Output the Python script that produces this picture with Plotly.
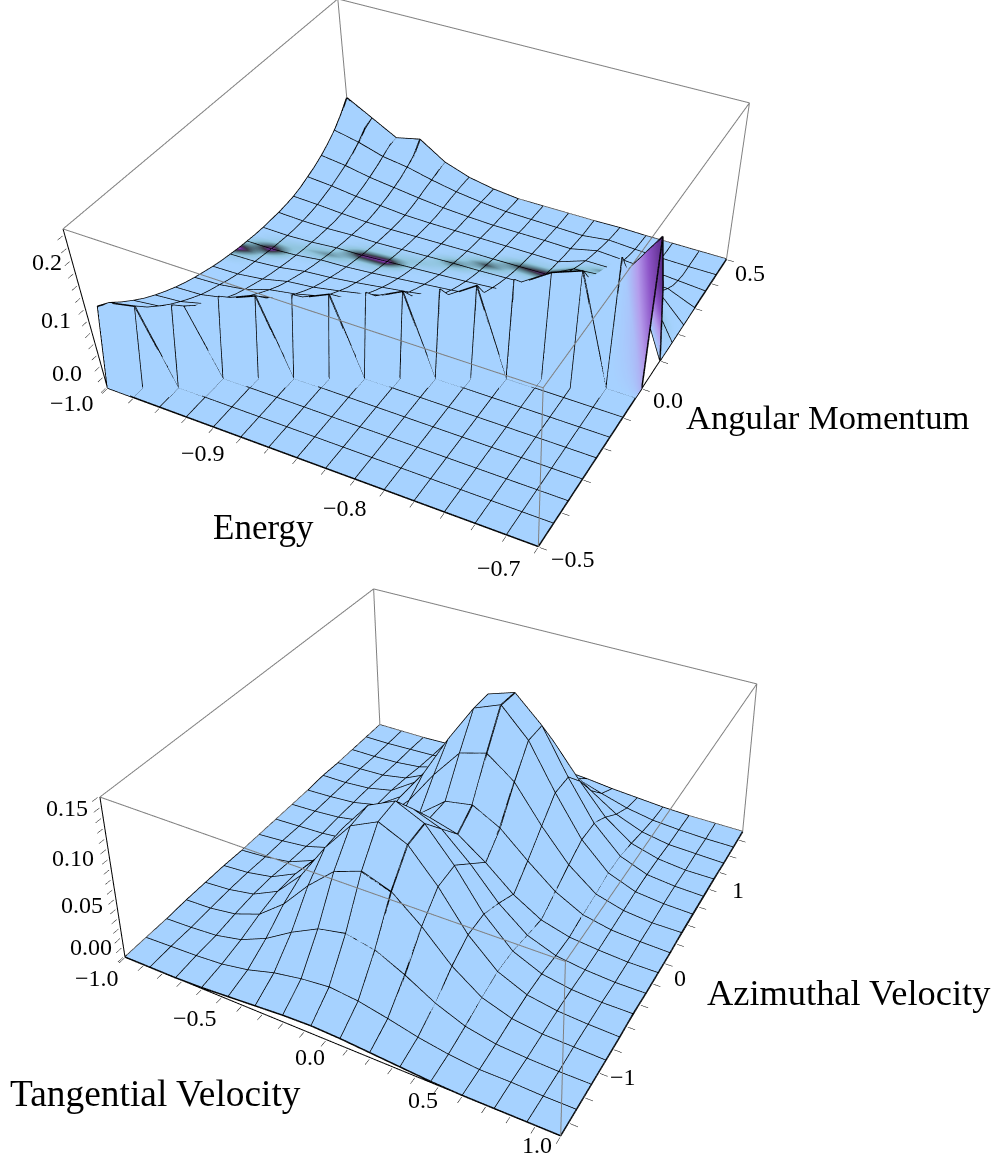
import plotly.graph_objects as go

# ---- top panel data ----
energy = [-1.00,-0.98,-0.96,-0.94,-0.92,-0.90,-0.88,-0.86,-0.84,-0.82,-0.80,-0.78,-0.76,-0.74,-0.72,-0.70]
ang_mom = [round(-0.5 + j/30, 5) for j in range(31)]
# rows: energy, columns: angular momentum; values in thousandths
top_z = [
 [0,130,120,105,92,80,70,61,53,46, 40,35,30,26,23,20,18,16,15,15, 15,16,18,22,28,34,42,52,64,80,100],
 [0,0,130,112,98,85,74,64,55,48, 42,36,31,27,24,21,18,16,14,13, 13,14,16,20,24,30,36,44,54,68,75],
 [0,0,0,132,114,99,86,75,65,56, 49,43,37,32,28,24,21,18,16,14, 13,12,13,15,18,22,27,33,40,48,50],
 [0,0,0,0,0,131,113,98,85,74, 64,55,48,42,36,31,27,23,20,17, 15,13,11,12,14,17,21,26,33,42,60],
 [0,0,0,0,0,0,132,112,96,83, 72,62,53,46,40,34,29,25,21,18, 15,13,11,10,10,12,15,19,22,26,30],
 [0,0,0,0,0,0,0,134,114,98, 84,72,62,53,46,39,33,28,24,20, 17,14,12,10,9,9,10,12,13,14,14],
 [0,0,0,0,0,0,0,0,135,115, 98,84,72,62,53,45,38,32,27,23, 19,16,13,11,9,8,7,8,7,6,5],
 [0,0,0,0,0,0,0,0,0,138, 116,98,84,71,60,51,43,36,30,25, 21,17,14,11,9,7,5,4,3,1,0],
 [0,0,0,0,0,0,0,0,0,0, 140,116,97,81,68,57,48,40,33,27, 22,18,14,11,9,7,5,3,2,1,0],
 [0,0,0,0,0,0,0,0,0,0, 0,144,118,97,80,66,54,45,37,30, 24,19,15,12,9,7,5,3,1,0,0],
 [0,0,0,0,0,0,0,0,0,0, 0,0,150,120,97,79,64,52,42,33, 26,20,16,12,9,6,4,2,0,0,0],
 [0,0,0,0,0,0,0,0,0,0, 0,0,0,160,140,122,106,92,80,70, 60,50,41,33,26,20,15,10,6,3,1],
 [0,0,0,0,0,0,0,0,0,0, 0,0,0,0,172,150,130,112,96,82, 68,56,45,35,26,18,12,7,3,1,0],
 [0,0,0,0,0,0,0,0,0,0, 0,0,0,0,190,162,140,120,102,86, 70,56,43,32,22,14,8,3,1,0,0],
 [0,0,0,0,0,0,0,0,0,0, 0,0,0,0,0,212,175,148,124,102, 82,64,47,32,20,10,4,0,0,0,0],
 [0,0,0,0,0,0,0,0,0,0, 0,0,0,0,0,0,245,150,0,0, 0,0,0,0,0,0,0,0,0,0,0],
]
# colour band along the ridge: (energy index, angular momentum index, tone 0..10)
top_band = [(0,15,10),(1,16,10),(2,17,3),(3,17,5),(4,18,9),(5,18,10),(6,19,3),(7,20,6),
            (8,21,7),(9,22,7),(10,22,9),(11,22,5),(12,23,6),(13,22,5),(14,20,5)]
# colour on the end wall: (energy index, angular momentum index, tone -10..0)
top_wall = [(15,15,-2),(15,16,-10),(15,17,-10)]

# ---- bottom panel data ----
tangential = [-1 + i*2/15 for i in range(16)]
azimuthal = [-1.5 + i*3/15 for i in range(16)]
# rows: tangential, columns: azimuthal; values in thousandths
bottom_z = [
 [0,0,0,1,1,1,0,0,0,0,0,1,0,0,0,0],
 [0,1,1,2,3,3,2,2,1,1,1,1,1,0,0,0],
 [0,2,3,6,8,8,6,5,2,3,3,3,2,1,1,0],
 [1,4,9,16,21,21,17,13,5,8,9,9,7,4,2,1],
 [3,9,21,37,48,49,40,30,15,21,27,27,20,12,5,2],
 [5,17,38,66,86,88,71,54,34,49,62,62,46,27,12,4],
 [7,22,52,90,117,120,97,74,60,85,107,107,80,46,20,7],
 [8,25,58,100,130,133,108,82,82,116,147,147,110,63,28,9],
 [7,22,52,90,117,120,97,74,87,124,158,156,117,67,30,10],
 [5,16,38,66,86,88,71,54,72,103,130,130,97,56,25,8],
 [3,9,21,37,48,49,40,30,47,66,84,84,63,36,16,5],
 [1,4,9,16,21,21,17,13,24,34,43,43,32,18,8,3],
 [0,1,3,6,8,8,6,5,9,12,16,16,12,7,3,1],
 [0,1,1,2,3,3,2,2,3,4,5,5,4,2,1,0],
 [0,0,0,1,1,1,0,0,1,1,2,2,1,1,0,0],
 [0,0,0,0,0,1,0,0,0,1,1,1,1,0,0,0],
]

# ---- tick labels (text, page x, page y) ----
top_labels = [("0.0",67,373),("0.1",56,320),("0.2",47,262),
              ("\u22121.0",72,403),("\u22120.9",203,453),("\u22120.8",345,508),("\u22120.7",499,568),
              ("\u22120.5",573,559),("0.0",668,400),("0.5",750,273)]
bottom_labels = [("0.00",91,947),("0.05",82,905),("0.10",73,858),("0.15",67,808),
                 ("\u22121.0",97,978),("\u22120.5",195,1018),("0.0",310,1057),("0.5",423,1100),("1.0",537,1145),
                 ("\u22121",623,1077),("0",680,978),("1",738,890)]
titles = [("Energy",213,527,35),("Angular Momentum",686,417,34.6),
          ("Tangential Velocity",10,1093,37.4),("Azimuthal Velocity",707,993,36.4)]

BLUE = "#A6D2FF"
FONT = "Liberation Serif"
TONES = [[0.0,"#5A2A88"],[0.2,"#8E55C8"],[0.35,"#B49CEC"],[0.5,BLUE],[0.65,"#8FC4DC"],[0.775,"#5A7F8C"],
         [0.86,"#3A3A48"],[0.94,"#6A2A8C"],[1.0,"#9A55D8"]]

def scale(rows):
    return [[v/1000 for v in r] for r in rows]

def surface(x, y, z, color, scene):
    return go.Surface(x=x, y=y, z=z, surfacecolor=color, cmin=-10, cmax=10, colorscale=TONES,
        showscale=False, scene=scene, hoverinfo="skip",
        lighting=dict(ambient=1, diffuse=0, specular=0, roughness=1, fresnel=0),
        contours=dict(x=dict(highlight=False), y=dict(highlight=False), z=dict(highlight=False)))

def mesh(x, y, z, scene, ystep):
    xs, ys, zs = [], [], []
    for j in range(0, len(y), ystep):
        for i in range(len(x)):
            xs.append(x[i]); ys.append(y[j]); zs.append(z[j][i])
        xs.append(None); ys.append(None); zs.append(None)
    for i in range(len(x)):
        for j in range(len(y)):
            xs.append(x[i]); ys.append(y[j]); zs.append(z[j][i])
        xs.append(None); ys.append(None); zs.append(None)
    return go.Scatter3d(x=xs, y=ys, z=zs, mode="lines", line=dict(color="black", width=3),
                        scene=scene, hoverinfo="skip", showlegend=False)

def box(xr, yr, zr, scene):
    xs, ys, zs = [], [], []
    for a in xr:
        for b in yr:
            xs += [a,a,None]; ys += [b,b,None]; zs += [zr[0],zr[1],None]
    for a in xr:
        for c in zr:
            xs += [a,a,None]; ys += [yr[0],yr[1],None]; zs += [c,c,None]
    for b in yr:
        for c in zr:
            xs += [xr[0],xr[1],None]; ys += [b,b,None]; zs += [c,c,None]
    return go.Scatter3d(x=xs, y=ys, z=zs, mode="lines", line=dict(color="#808080", width=2),
                        scene=scene, hoverinfo="skip", showlegend=False)

def front(xr, yr, zr, scene):
    return go.Scatter3d(x=[xr[0],xr[1],xr[1],None,xr[0],xr[0]], y=[yr[0],yr[0],yr[1],None,yr[0],yr[0]],
                        z=[zr[0],zr[0],zr[0],None,zr[0],zr[1]], mode="lines",
                        line=dict(color="black", width=2), scene=scene, hoverinfo="skip", showlegend=False)

def axis(rng, vals):
    # a hair of padding keeps the frame lines inside the scene's clipping box
    pad = (rng[1] - rng[0]) * 0.003
    return dict(range=[rng[0]-pad, rng[1]+pad], title="", showgrid=False, zeroline=False, showbackground=False,
                showline=False, ticks="outside", ticklen=6,
                tickcolor="black", tickwidth=1, tickmode="array", tickvals=vals,
                showticklabels=False, showspikes=False)

def steps(lo, n, step):
    return [round(lo + k*step, 4) for k in range(n)]

top_color = [[0]*len(ang_mom) for _ in energy]
for i, j, t in top_band:
    top_color[i][j] = t
    top_color[i][j-1] = max(top_color[i][j-1], t*0.2)
    top_color[i][j+1] = max(top_color[i][j+1], t*0.2)
for i, j, t in top_wall:
    top_color[i][j] = t
bottom_color = [[0]*16 for _ in range(16)]

zt = [list(c) for c in zip(*scale(top_z))]
ct = [list(c) for c in zip(*top_color)]
zb = [list(c) for c in zip(*scale(bottom_z))]

fig = go.Figure()
fig.add_trace(surface(energy, ang_mom, zt, ct, "scene"))
fig.add_trace(mesh(energy, ang_mom, zt, "scene", 2))
fig.add_trace(box([-1,-0.7],[-0.5,0.5],[0,0.27],"scene"))
fig.add_trace(front([-1,-0.7],[-0.5,0.5],[0,0.27],"scene"))
fig.add_trace(surface(tangential, azimuthal, zb, bottom_color, "scene2"))
fig.add_trace(mesh(tangential, azimuthal, zb, "scene2", 1))
fig.add_trace(box([-1,1],[-1.5,1.5],[0,0.16],"scene2"))
fig.add_trace(front([-1,1],[-1.5,1.5],[0,0.16],"scene2"))

ann = [dict(text=t, x=x/1001, y=1-y/1161, xref="paper", yref="paper", showarrow=False,
            xanchor="left", yanchor="middle", xshift=-2, font=dict(family=FONT, size=s, color="black"))
       for t, x, y, s in titles]
ann += [dict(text=t, x=x/1001, y=1-y/1161, xref="paper", yref="paper", showarrow=False,
             xanchor="center", yanchor="middle", font=dict(family=FONT, size=24, color="black"))
        for t, x, y in top_labels + bottom_labels]

fig.update_layout(
    width=1001, height=1161, margin=dict(l=0,r=0,t=0,b=0), paper_bgcolor="white", showlegend=False,
    scene=dict(domain=dict(x=[0,1],y=[0,1]), aspectmode="manual", aspectratio=dict(x=1,y=1,z=0.394),
        camera=dict(eye=dict(x=1.226,y=-2.107,z=1.745), center=dict(x=0.471,y=-0.603,z=-0.197), up=dict(x=0,y=0,z=1)),
        xaxis=axis([-1,-0.7], steps(-1,16,0.02)),
        yaxis=axis([-0.5,0.5], steps(-0.5,11,0.1)),
        zaxis=axis([0,0.27], steps(0,14,0.02))),
    scene2=dict(domain=dict(x=[0,1],y=[0,1]), aspectmode="manual", aspectratio=dict(x=1,y=1,z=0.404),
        camera=dict(eye=dict(x=1.220,y=-2.119,z=1.799), center=dict(x=-0.167,y=0.549,z=0.278), up=dict(x=0,y=0,z=1)),
        xaxis=axis([-1,1], steps(-1,21,0.1)),
        yaxis=axis([-1.5,1.5], steps(-1.4,15,0.2)),
        zaxis=axis([0,0.16], steps(0,17,0.01))),
    annotations=ann,
)
fig.write_html("out.html", post_script="document.body.style.margin='0';", config=dict(displayModeBar=False))
